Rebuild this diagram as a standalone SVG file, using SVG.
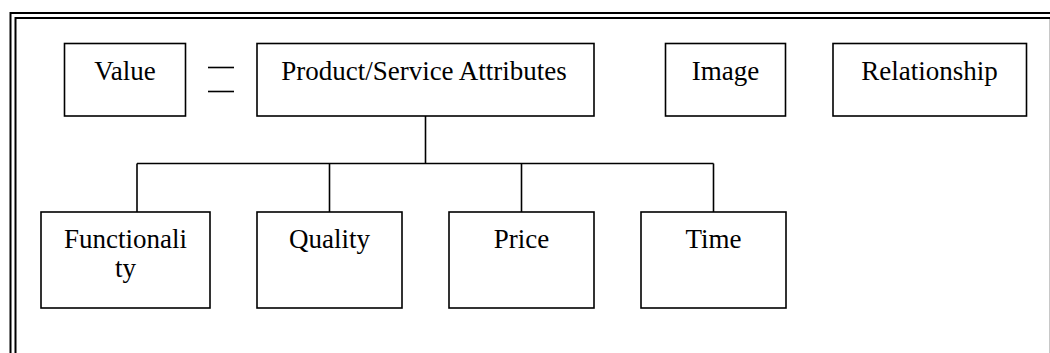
<svg xmlns="http://www.w3.org/2000/svg" width="1050" height="353" viewBox="0 0 1050 353">
<style>
.box{fill:#fff;stroke:#000;stroke-width:1.6}
.ln{fill:none;stroke:#000;stroke-width:1.6}
.frame{fill:none;stroke:#000;stroke-width:2}
text{font-family:"Liberation Serif","Times New Roman",serif;font-size:27px;fill:#000;text-anchor:middle}
</style>
<rect width="1050" height="353" fill="#fff"/>
<g id="frame">
<path class="frame" d="M10.5 353 V13 H1050"/>
<path class="frame" d="M15.5 353 V18 H1050"/>
<line x1="1049.5" y1="19" x2="1049.5" y2="353" stroke="#c8c8c8" stroke-width="1"/>
</g>
<g id="connectors">
<line class="ln" x1="208" y1="67.5" x2="234" y2="67.5"/>
<line class="ln" x1="208" y1="91.5" x2="234" y2="91.5"/>
<path class="ln" d="M425.5 116 V163.5"/>
<path class="ln" d="M137 163.5 H713.5"/>
<path class="ln" d="M137 163.5 V212"/>
<path class="ln" d="M329.5 163.5 V212"/>
<path class="ln" d="M521.5 163.5 V212"/>
<path class="ln" d="M713.5 163.5 V212"/>
</g>
<g id="value"><rect class="box" x="64.5" y="43.5" width="121" height="72.5"/><text x="125" y="80">Value</text></g>
<g id="product"><rect class="box" x="257" y="43.5" width="337" height="72.5"/><text x="424" y="80">Product/Service Attributes</text></g>
<g id="image"><rect class="box" x="665.5" y="43.5" width="120" height="72.5"/><text x="725.5" y="80">Image</text></g>
<g id="relationship"><rect class="box" x="833" y="43.5" width="193.5" height="72.5"/><text x="929.5" y="80">Relationship</text></g>
<g id="functionality"><rect class="box" x="41" y="212" width="169" height="96"/><text x="125.5" y="248">Functionali</text><text x="125.5" y="276.5">ty</text></g>
<g id="quality"><rect class="box" x="257" y="212" width="145" height="96"/><text x="329.5" y="248">Quality</text></g>
<g id="price"><rect class="box" x="449" y="212" width="145" height="96"/><text x="521.5" y="248">Price</text></g>
<g id="time"><rect class="box" x="641" y="212" width="145" height="96"/><text x="713.5" y="248">Time</text></g>
</svg>
